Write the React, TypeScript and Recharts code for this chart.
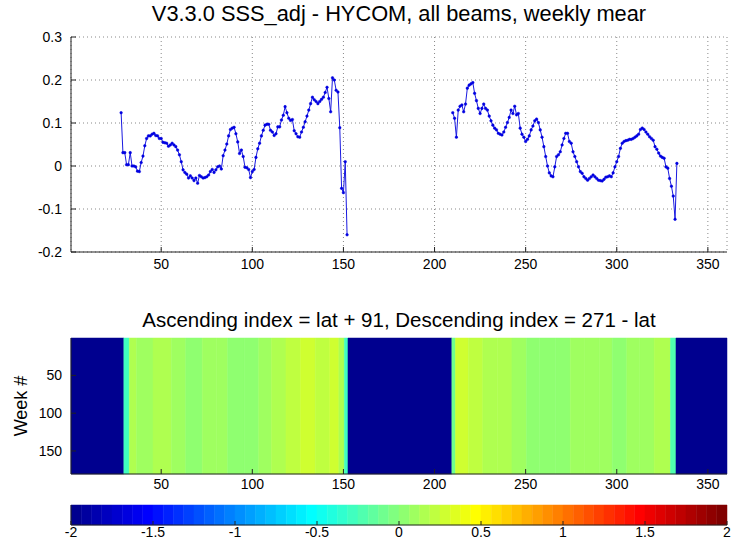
import React from 'react';
import { LineChart, Line, XAxis, YAxis, CartesianGrid, ComposedChart, ReferenceArea } from 'recharts';

const FONT = '"Liberation Sans", Arial, Helvetica, sans-serif';

// top panel: weekly mean SSS_adj - HYCOM by index (ascending block, then descending block)
const ascStart = 28;
const ascValues = [
  0.124, 0.031, 0.031, 0.003, 0.003, 0.031, 0.000, 0.000, -0.002, -0.012,
  -0.013, 0.008, 0.023, 0.047, 0.064, 0.070, 0.070, 0.074, 0.076, 0.071,
  0.070, 0.064, 0.064, 0.055, 0.054, 0.053, 0.046, 0.049, 0.053, 0.049,
  0.045, 0.037, 0.026, 0.010, -0.009, -0.015, -0.019, -0.028, -0.023, -0.028,
  -0.034, -0.028, -0.040, -0.022, -0.025, -0.028, -0.027, -0.025, -0.021, -0.013,
  -0.008, -0.015, -0.009, -0.002, 0.000, -0.007, 0.024, 0.037, 0.051, 0.070,
  0.085, 0.088, 0.090, 0.075, 0.056, 0.029, 0.037, 0.022, -0.003, -0.004,
  -0.008, -0.027, -0.013, -0.008, 0.020, 0.040, 0.053, 0.070, 0.083, 0.095,
  0.097, 0.097, 0.083, 0.079, 0.071, 0.075, 0.091, 0.091, 0.107, 0.118,
  0.138, 0.124, 0.111, 0.106, 0.108, 0.082, 0.075, 0.068, 0.067, 0.079,
  0.090, 0.103, 0.116, 0.130, 0.145, 0.160, 0.154, 0.150, 0.145, 0.150,
  0.155, 0.160, 0.171, 0.183, 0.157, 0.126, 0.205, 0.200, 0.176, 0.172,
  0.089, -0.052, -0.062, 0.010, -0.160,
];
const descStart = 210;
const descValues = [
  0.124, 0.111, 0.067, 0.130, 0.139, 0.142, 0.126, 0.144, 0.181, 0.188,
  0.191, 0.194, 0.169, 0.152, 0.134, 0.122, 0.134, 0.144, 0.134, 0.130,
  0.116, 0.105, 0.095, 0.088, 0.084, 0.076, 0.074, 0.072, 0.079, 0.090,
  0.101, 0.113, 0.130, 0.122, 0.139, 0.119, 0.122, 0.088, 0.074, 0.067,
  0.057, 0.062, 0.070, 0.084, 0.093, 0.105, 0.109, 0.101, 0.084, 0.067,
  0.045, 0.022, 0.000, -0.016, -0.023, -0.025,
  -0.002, 0.022, 0.026, 0.033, 0.049, 0.064, 0.076, 0.076, 0.057, 0.053,
  0.033, 0.022, 0.010, -0.002, -0.013, -0.017, -0.025, -0.029, -0.033, -0.029,
  -0.025, -0.021, -0.025, -0.029, -0.033, -0.034, -0.035, -0.031, -0.026, -0.025,
  -0.023, -0.025, -0.016, -0.002, 0.010, 0.022, 0.041, 0.053, 0.057, 0.059,
  0.060, 0.062, 0.062, 0.064, 0.067, 0.070, 0.074, 0.085, 0.088, 0.085,
  0.079, 0.074, 0.068, 0.064, 0.060, 0.045, 0.039, 0.030, 0.023, 0.020,
  0.018, -0.002, -0.005, -0.029, -0.047, -0.070, -0.124, 0.006,
];

const xTicks = [50, 100, 150, 200, 250, 300, 350];
const yTicks = [-0.2, -0.1, 0, 0.1, 0.2, 0.3];
const weekTicks = [50, 100, 150];
const cbarTicks = [-2, -1.5, -1, -0.5, 0, 0.5, 1, 1.5, 2];

// bottom panel: column bands of the weekly image, null = no data
const bandEdges = [
  0.5, 29.5, 32.5, 36.5, 45.5, 55.5, 63.5, 72.5, 80.5, 86.5, 95.5, 103.5, 110.5,
  118.5, 126.5, 134.5, 142.5, 147.5, 150.5, 152.5, 209.5, 211.5, 218.5, 226.5,
  234.5, 242.5, 250.5, 257.5, 266.5, 274.5, 282.5, 290.5, 297.5, 305.5, 312.5,
  320.5, 329.5, 332.5, 360.5,
];
const bandValues = [
  null, -0.3, 0.15, 0.12, 0.14, 0.1, 0.05, 0.1, 0.12, 0.06, 0.0, 0.08,
  0.14, 0.2, 0.25, 0.24, 0.28, 0.15, -0.3,
  null,
  -0.1, 0.25, 0.22, 0.18, 0.14, 0.1, 0.06, 0.0, 0.04, 0.1, 0.12, 0.08,
  0.04, 0.08, 0.12, 0.14, -0.2,
  null,
];

const lineData = [
  ...ascValues.map((v, i) => ({ idx: ascStart + i, v })),
  { idx: 181, v: null },
  ...descValues.map((v, i) => ({ idx: descStart + i, v })),
];

// matlab jet(64)
const clamp = (x: number) => Math.max(0, Math.min(1, x));
function jetColor(k: number) {
  const r = clamp(Math.min((k - 24) / 16, (72 - k) / 16));
  const g = clamp(Math.min((k - 8) / 16, (56 - k) / 16));
  const b = clamp(Math.min((k + 8) / 16, (40 - k) / 16));
  return `rgb(${Math.round(r * 255)},${Math.round(g * 255)},${Math.round(b * 255)})`;
}
function valueColor(v: number | null) {
  if (v === null) return jetColor(1);
  const k = Math.max(1, Math.min(64, Math.floor(((v + 2) / 4) * 64) + 1));
  return jetColor(k);
}

const bands = bandValues.map((v, i) => ({ x: bandEdges[i], x2: bandEdges[i + 1], y: 90, color: valueColor(v) }));
const cbarCells = Array.from({ length: 64 }, (_, i) => ({ x: -2 + i / 16, x2: -2 + (i + 1) / 16, y: 0.5, color: jetColor(i + 1) }));

const AX = '#222';
const tickStyle = { fill: '#000', fontSize: 14, fontFamily: FONT };

export default function App() {
  return (
    <div style={{ position: 'absolute', left: 0, top: 0, width: 732, height: 542, background: '#fff', fontFamily: FONT }}>
      <div style={{ position: 'absolute', left: 71, width: 656, top: 3, textAlign: 'center', fontSize: 21.8, lineHeight: '22px', color: '#000', whiteSpace: 'nowrap' }}>
        V3.3.0 SSS_adj - HYCOM, all beams, weekly mear
      </div>
      <div style={{ position: 'absolute', left: 0, top: 0 }}>
        <LineChart width={732} height={290} data={lineData} margin={{ top: 37, right: 5, left: 0, bottom: 0 }}>
          <CartesianGrid xAxisId="b" yAxisId="l" stroke="#888" strokeDasharray="1 3" />
          <XAxis xAxisId="b" dataKey="idx" type="number" domain={[0.5, 360.5]} ticks={xTicks} allowDataOverflow
            height={38} stroke={AX} tickSize={-5} tickMargin={12} tick={tickStyle} />
          <XAxis xAxisId="t" orientation="top" dataKey="idx" type="number" domain={[0.5, 360.5]} ticks={xTicks}
            allowDataOverflow height={0} stroke={AX} tickSize={-5} tick={false} />
          <YAxis yAxisId="l" type="number" domain={[-0.2, 0.3]} ticks={yTicks} allowDataOverflow width={71}
            stroke={AX} tickSize={-5} tickMargin={14} tick={tickStyle} />
          <YAxis yAxisId="r" orientation="right" type="number" domain={[-0.2, 0.3]} ticks={yTicks} allowDataOverflow
            width={0} stroke={AX} tickSize={-5} tick={false} />
          <Line xAxisId="b" yAxisId="l" dataKey="v" type="linear" stroke="#1a1ae0" strokeWidth={1}
            dot={{ r: 1.3, fill: '#0000e0', stroke: '#0000e0', strokeWidth: 0.5 }} isAnimationActive={false} connectNulls={false} />
        </LineChart>
      </div>

      <div style={{ position: 'absolute', left: 71, width: 656, top: 309, textAlign: 'center', fontSize: 20.5, lineHeight: '22px', color: '#000', whiteSpace: 'nowrap' }}>
        Ascending index = lat + 91, Descending index = 271 - lat
      </div>
      <div style={{ position: 'absolute', left: 21, top: 406, transform: 'translate(-50%, -50%) rotate(-90deg)', fontSize: 18, whiteSpace: 'nowrap', color: '#000' }}>
        Week #
      </div>
      <div style={{ position: 'absolute', left: 0, top: 300 }}>
        <ComposedChart width={732} height={200} data={bands} margin={{ top: 38, right: 5, left: 0, bottom: 0 }}>
          {bands.map((b, i) => (
            <ReferenceArea key={`band-${i}`} xAxisId="b" yAxisId="l" x1={b.x} x2={b.x2} y1={0.5} y2={180.5}
              fill={b.color} fillOpacity={1} stroke={b.color} strokeWidth={0.5} ifOverflow="visible" />
          ))}
          <Line xAxisId="b" yAxisId="l" dataKey="y" stroke="none" dot={false} activeDot={false} isAnimationActive={false} />
          <XAxis xAxisId="b" dataKey="x" type="number" domain={[0.5, 360.5]} ticks={xTicks} allowDataOverflow height={26}
            stroke={AX} tickSize={-5} tickMargin={10} tick={tickStyle} />
          <XAxis xAxisId="t" dataKey="x" orientation="top" type="number" domain={[0.5, 360.5]} ticks={xTicks} allowDataOverflow
            height={0} stroke={AX} tickSize={-5} tick={false} />
          <YAxis yAxisId="l" type="number" domain={[0.5, 180.5]} reversed ticks={weekTicks} allowDataOverflow width={71}
            stroke={AX} tickSize={-5} tickMargin={14} tick={tickStyle} />
          <YAxis yAxisId="r" orientation="right" type="number" domain={[0.5, 180.5]} reversed ticks={weekTicks}
            allowDataOverflow width={0} stroke={AX} tickSize={-5} tick={false} />
        </ComposedChart>
      </div>

      <div style={{ position: 'absolute', left: 0, top: 490 }}>
        <ComposedChart width={732} height={52} data={cbarCells} margin={{ top: 15, right: 5, left: 0, bottom: 0 }}>
          {cbarCells.map((c, i) => (
            <ReferenceArea key={`cb-${i}`} xAxisId="b" yAxisId="l" x1={c.x} x2={c.x2} y1={0} y2={1}
              fill={c.color} fillOpacity={1} stroke={c.color} strokeWidth={0.5} ifOverflow="visible" />
          ))}
          <Line xAxisId="b" yAxisId="l" dataKey="y" stroke="none" dot={false} activeDot={false} isAnimationActive={false} />
          <XAxis xAxisId="b" dataKey="x" type="number" domain={[-2, 2]} ticks={cbarTicks} allowDataOverflow height={17}
            stroke={AX} tickSize={-4} tickMargin={6} tick={tickStyle} />
          <XAxis xAxisId="t" dataKey="x" orientation="top" type="number" domain={[-2, 2]} ticks={cbarTicks} allowDataOverflow
            height={0} stroke={AX} tickSize={-4} tick={false} />
          <YAxis yAxisId="l" type="number" domain={[0, 1]} allowDataOverflow width={71} stroke={AX}
            tick={false} tickLine={false} />
          <YAxis yAxisId="r" orientation="right" type="number" domain={[0, 1]} allowDataOverflow width={0}
            stroke={AX} tick={false} tickLine={false} />
        </ComposedChart>
      </div>
    </div>
  );
}
